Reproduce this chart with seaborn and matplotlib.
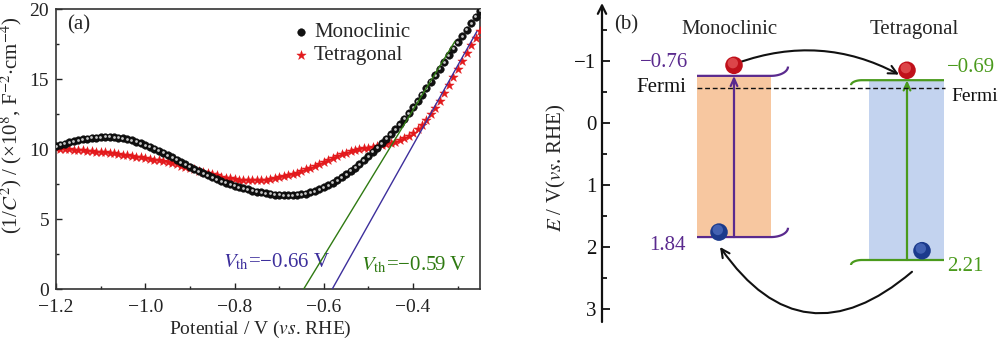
import numpy as np
import pandas as pd
import matplotlib
matplotlib.use("Agg")
import matplotlib.pyplot as plt
import matplotlib.transforms as mtransforms
from matplotlib.ticker import MultipleLocator, FixedLocator
import seaborn as sns

# ---------------- data ----------------
potential = [round(-1.20 + 0.01 * i, 2) for i in range(96)]  # -1.20 ... -0.25 (V vs RHE)

monoclinic = [10.20, 10.30, 10.39, 10.47, 10.55, 10.62, 10.68, 10.74, 10.79, 10.82,
              10.85, 10.86, 10.86, 10.84, 10.81, 10.76, 10.69, 10.61, 10.51, 10.40,
              10.28, 10.15, 10.01, 9.87, 9.72, 9.57, 9.41, 9.24, 9.07, 8.90,
              8.73, 8.57, 8.41, 8.26, 8.11, 7.97, 7.84, 7.71, 7.59, 7.48,
              7.38, 7.28, 7.19, 7.11, 7.03, 6.96, 6.90, 6.84, 6.79, 6.75,
              6.72, 6.70, 6.69, 6.70, 6.72, 6.76, 6.82, 6.90, 7.00, 7.12,
              7.26, 7.42, 7.59, 7.78, 7.98, 8.20, 8.43, 8.67, 8.92, 9.20,
              9.50, 9.80, 10.10, 10.42, 10.74, 11.07, 11.42, 11.78, 12.16, 12.56,
              12.98, 13.42, 13.87, 14.33, 14.80, 15.27, 15.74, 16.21, 16.68, 17.15,
              17.61, 18.07, 18.53, 18.99, 19.44, 19.89]

tetragonal = [10.05, 10.03, 10.00, 9.98, 9.95, 9.92, 9.90, 9.87, 9.84, 9.82,
              9.79, 9.76, 9.72, 9.68, 9.64, 9.60, 9.55, 9.50, 9.45, 9.40,
              9.35, 9.30, 9.24, 9.18, 9.12, 9.05, 8.98, 8.90, 8.82, 8.73,
              8.64, 8.55, 8.46, 8.37, 8.28, 8.19, 8.11, 8.03, 7.96, 7.90,
              7.85, 7.81, 7.78, 7.76, 7.76, 7.77, 7.79, 7.82, 7.86, 7.91,
              7.97, 8.04, 8.12, 8.21, 8.31, 8.42, 8.54, 8.67, 8.81, 8.95,
              9.09, 9.23, 9.37, 9.50, 9.62, 9.73, 9.83, 9.92, 9.99, 10.05,
              10.10, 10.15, 10.21, 10.28, 10.35, 10.43, 10.52, 10.63, 10.76, 10.93,
              11.15, 11.42, 11.73, 12.08, 12.48, 12.92, 13.45, 14.00, 14.56, 15.13,
              15.70, 16.27, 16.84, 17.41, 17.96, 18.45]

# linear (Mott-Schottky) fits
fit_mono_x = [-0.645, -0.306]
fit_mono_y = [0.0, 17.7]
fit_tetra_x = [-0.581, -0.257]
fit_tetra_y = [0.0, 18.4]

vth_labels = ["\u22120.66 V", "\u22120.59 V"]

# band diagram (V vs RHE)
phases = ["Monoclinic", "Tetragonal"]
cb_edge = [-0.76, -0.69]
vb_edge = [1.84, 2.21]
fermi_level = -0.57
cb_labels = ["\u22120.76", "\u22120.69"]
vb_labels = ["1.84", "2.21"]

# ---------------- style ----------------
sns.set_theme(style="ticks")
plt.rcParams["font.family"] = ["Liberation Serif", "DejaVu Serif"]
plt.rcParams["mathtext.fontset"] = "stix"
plt.rcParams["axes.unicode_minus"] = True
FS = 15
TFS = 14

PURPLE_A = "#3d2f9c"
GREEN_A = "#2f7a12"
PURPLE_B = "#5a2a8e"
GREEN_B = "#4a9a1c"

fig = plt.figure(figsize=(10, 3.39), dpi=100)

# ================= panel (a) =================
W, H = 1000.0, 339.0
ax = fig.add_axes([56 / W, 1 - 289 / H, (480 - 56) / W, (289 - 9) / H])

df = pd.DataFrame({"Potential": potential * 2,
                   "invC2": monoclinic + tetragonal,
                   "Phase": ["Monoclinic"] * len(potential) + ["Tetragonal"] * len(potential)})
dm = df[df.Phase == "Monoclinic"]
dt = df[df.Phase == "Tetragonal"]

sns.scatterplot(data=dt, x="Potential", y="invC2", ax=ax, marker="*", s=50,
                color="#e3191c", edgecolor="#e3191c", linewidth=0.3, label="Tetragonal", zorder=3)
sns.scatterplot(data=dm, x="Potential", y="invC2", ax=ax, marker="o", s=30,
                color="#111111", edgecolor="#000000", linewidth=0.3, label="Monoclinic", zorder=4)
hl = mtransforms.offset_copy(ax.transData, fig=fig, x=-0.5, y=0.5, units="dots")
ax.scatter(dm["Potential"], dm["invC2"], s=4, color="#c8c8c8", linewidth=0,
           transform=hl, zorder=5)

sns.lineplot(x=fit_mono_x, y=fit_mono_y, ax=ax, color=GREEN_A, lw=1.0, zorder=6)
sns.lineplot(x=fit_tetra_x, y=fit_tetra_y, ax=ax, color=PURPLE_A, lw=1.0, zorder=6)

ax.set_xlim(-1.2, -0.25)
ax.set_ylim(0, 20)
ax.xaxis.set_major_locator(FixedLocator([-1.2, -1.0, -0.8, -0.6, -0.4]))
ax.xaxis.set_minor_locator(MultipleLocator(0.1))
ax.yaxis.set_major_locator(MultipleLocator(5))
ax.yaxis.set_minor_locator(MultipleLocator(2.5))
ax.set_xticklabels(["\u22121.2", "\u22121.0", "\u22120.8", "\u22120.6", "\u22120.4"])
ax.tick_params(which="both", direction="in", top=False, right=False, labelsize=TFS,
               colors="#222222", width=1.0)
ax.tick_params(which="major", length=4.5)
ax.tick_params(which="minor", length=2.5)
ax.tick_params(axis="x", pad=7.5)
ax.tick_params(axis="y", pad=5)
for sp in ax.spines.values():
    sp.set_color("#333333")
    sp.set_linewidth(1.2)
    sp.set_visible(True)

ax.set_xlabel(r"Potential / V ($\mathit{vs}$. RHE)", fontsize=14)
ax.xaxis.set_label_coords(0.481, -0.107)
ax.set_ylabel(r"(1/$C^2$) / (×10$^8$, F$^{-2}$$\cdot$cm$^{-4}$)", fontsize=FS)
ax.yaxis.set_label_coords(-0.076, 0.584)

ax.text(0.026, 0.943, "(a)", transform=ax.transAxes, fontsize=FS, va="center", ha="left")
ax.text(-0.826, 1.95, r"$V_{\rm th}$=" + vth_labels[0], color=PURPLE_A, fontsize=FS,
        ha="left", va="center")
ax.text(-0.517, 1.72, r"$V_{\rm th}$=" + vth_labels[1], color=GREEN_A, fontsize=FS,
        ha="left", va="center")

handles, labels = ax.get_legend_handles_labels()
order = [labels.index("Monoclinic"), labels.index("Tetragonal")]
ax.legend([handles[i] for i in order], [labels[i] for i in order], frameon=False,
          loc="upper left", bbox_to_anchor=(0.52, 0.995), fontsize=FS, handletextpad=0.0,
          borderaxespad=0.2, labelspacing=0.15, markerscale=1.0, handlelength=1.2)

# ================= panel (b) =================
ylo, yhi = 3.21, -1.935
bx = fig.add_axes([602 / W, 1 - 322 / H, (1000 - 602) / W, (322 - 3) / H])
bx.set_xlim(602, 1000)
bx.set_ylim(ylo, yhi)
for s in ["top", "right", "bottom", "left"]:
    bx.spines[s].set_visible(False)
bx.set_xticks([])
bx.yaxis.set_major_locator(FixedLocator([-1, 0, 1, 2, 3]))
bx.yaxis.set_minor_locator(FixedLocator([-1.5, -0.5, 0.5, 1.5, 2.5]))
bx.set_yticklabels(["\u22121", "0", "1", "2", "3"])
bx.tick_params(axis="y", which="both", direction="in", labelsize=FS, width=1.3, colors="#111111")
bx.tick_params(axis="y", which="major", length=6, pad=4)
bx.tick_params(axis="y", which="minor", length=3.5)
bx.annotate("", xy=(0, 1.0), xytext=(0, 0), xycoords="axes fraction",
            arrowprops=dict(arrowstyle="->,head_length=0.5,head_width=0.25", lw=1.6,
                            color="#111111", shrinkA=0, shrinkB=0))
bx.set_ylabel(r"$E$ / V($\mathit{vs}$. RHE)", fontsize=FS)
bx.yaxis.set_label_coords(-0.085, 0.483)

# layout (x positions in panel pixels)
box_x = [(697, 771), (869, 944)]
box_col = ["#f7c7a0", "#c3d3ef"]
line_col = [PURPLE_B, GREEN_B]
arrow_x = [734, 907]

for i in range(2):
    x0, x1 = box_x[i]
    bx.fill_between([x0, x1], cb_edge[i], vb_edge[i], color=box_col[i], lw=0, zorder=1)

t = np.linspace(0, np.pi / 2, 30)
# monoclinic band edges: horizontal then bending up on the right
for e in (cb_edge[0], vb_edge[0]):
    xs = np.concatenate([[697], 771 + 17 * np.sin(t)])
    ys = np.concatenate([[e], e - 0.15 * (1 - np.cos(t))])
    bx.plot(xs, ys, color=PURPLE_B, lw=1.6, zorder=3, solid_capstyle="butt")
# tetragonal band edges: horizontal then bending down on the left
for e in (cb_edge[1], vb_edge[1]):
    xs = np.concatenate([[944], 862 - 11 * np.sin(t)])
    ys = np.concatenate([[e], e + 0.08 * (1 - np.cos(t))])
    bx.plot(xs, ys, color=GREEN_B, lw=1.6, zorder=3, solid_capstyle="butt")

# excitation arrows
for i in range(2):
    bx.annotate("", xy=(arrow_x[i], cb_edge[i]), xytext=(arrow_x[i], vb_edge[i]),
                arrowprops=dict(arrowstyle="->,head_length=0.45,head_width=0.2", lw=1.6,
                                color=line_col[i], shrinkA=0, shrinkB=0), zorder=4)

# Fermi level
bx.plot([697, 945], [fermi_level, fermi_level], color="#111111", lw=1.0, ls=(0, (3.5, 2)), zorder=5)

# charge carriers (spheres)
def sphere(x, y, base, light, size=160):
    bx.scatter([x], [y], s=size, color=base, edgecolor="none", zorder=7)
    bx.scatter([x - 1.2], [y - 0.035], s=size * 0.35, color=light, edgecolor="none",
               alpha=0.6, zorder=8)

sphere(734, -0.93, "#c0101a", "#f06a6a")
sphere(907, -0.85, "#c0101a", "#f06a6a")
sphere(719, 1.76, "#1b3a8c", "#5d7ccc")
sphere(922, 2.06, "#1b3a8c", "#5d7ccc")

# transfer arrows
bx.annotate("", xy=(899, -0.78), xytext=(738, -0.97),
            arrowprops=dict(arrowstyle="->,head_length=0.5,head_width=0.25", lw=1.5,
                            color="#111111", connectionstyle="arc3,rad=-0.22",
                            shrinkA=0, shrinkB=0), zorder=6)
bx.annotate("", xy=(720, 2.0), xytext=(912, 2.40),
            arrowprops=dict(arrowstyle="->,head_length=0.5,head_width=0.25", lw=1.5,
                            color="#111111", connectionstyle="arc3,rad=-0.55",
                            shrinkA=0, shrinkB=0), zorder=6)

# texts
bx.text(626, -1.58, "(b)", fontsize=FS, ha="center", va="center")
bx.text(729, -1.5, phases[0], fontsize=FS, ha="center", va="center")
bx.text(914, -1.5, phases[1], fontsize=FS, ha="center", va="center")
bx.text(688, -0.98, cb_labels[0], fontsize=FS, ha="right", va="center", color=PURPLE_B)
bx.text(686, -0.58, "Fermi", fontsize=FS, ha="right", va="center", color="#111111")
bx.text(947, -0.90, cb_labels[1], fontsize=FS, ha="left", va="center", color=GREEN_B)
bx.text(951, -0.42, "Fermi", fontsize=14, ha="left", va="center", color="#111111")
bx.text(686, 1.98, vb_labels[0], fontsize=FS, ha="right", va="center", color=PURPLE_B)
bx.text(947, 2.32, vb_labels[1], fontsize=FS, ha="left", va="center", color=GREEN_B)

fig.savefig("out.png", dpi=100)
